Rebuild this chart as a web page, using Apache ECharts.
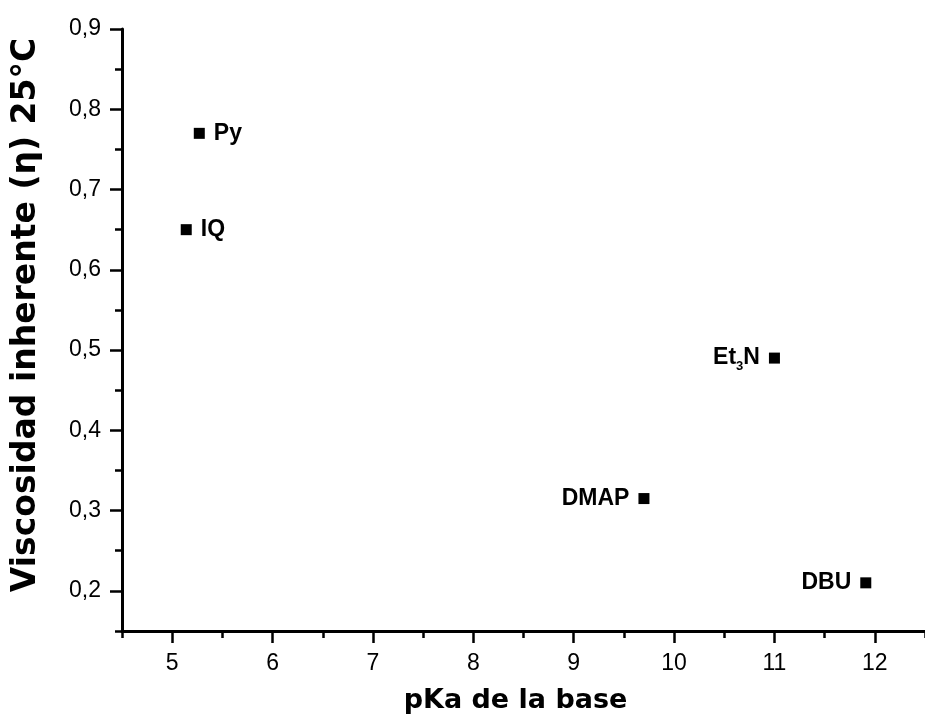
<!DOCTYPE html>
<html>
<head>
<meta charset="utf-8">
<script src="https://cdn.jsdelivr.net/npm/echarts@6/dist/echarts.min.js"></script>
<style>html,body{margin:0;padding:0;background:#fff}#c{width:925px;height:722px}</style>
</head>
<body>
<div id="c"></div>
<script>
// Data
const bases = ['Py', 'IQ', 'Et3N', 'DMAP', 'DBU'];
const pKa = [5.27, 5.14, 11.0, 9.70, 11.91];
const viscosity = [0.77, 0.65, 0.49, 0.315, 0.21];
const labelSide = ['right', 'right', 'left', 'left', 'left'];

// Axis ticks
const xMajorTicks = [5, 6, 7, 8, 9, 10, 11, 12];
const xMinorTicks = [4.5, 5.5, 6.5, 7.5, 8.5, 9.5, 10.5, 11.5, 12.5];
const yMajorTicks = [0.2, 0.3, 0.4, 0.5, 0.6, 0.7, 0.8, 0.9];
const yMinorTicks = [0.15, 0.25, 0.35, 0.45, 0.55, 0.65, 0.75, 0.85];

const xTitle = 'pKa de la base';
const yTitle = 'Viscosidad inherente (η) 25°C';

const FONT = '"Liberation Sans", Arial, sans-serif';
const TITLE_FONT = '"DejaVu Sans", "Liberation Sans", sans-serif';
const chart = echarts.init(document.getElementById('c'), null, {renderer: 'canvas'});

const tickLabelStyle = {color: '#000', fontFamily: FONT, fontSize: 23};

function labelText(name) {
  if (name === 'Et3N') return '{a|Et}{s|3}{a|N}';
  return '{a|' + name + '}';
}

const option = {
  backgroundColor: '#fff',
  animation: false,
  grid: {left: 122, top: 29, width: 809.6, height: 602},
  xAxis: [{
    type: 'value', min: 4.5, max: 12.5,
    splitLine: {show: false},
    axisLine: {show: true, onZero: false, lineStyle: {color: '#000', width: 3}},
    axisTick: {show: true, customValues: xMajorTicks, length: 12, lineStyle: {color: '#000', width: 2.5}},
    axisLabel: Object.assign({customValues: xMajorTicks, margin: 21, formatter: v => String(v)}, tickLabelStyle),
    name: xTitle, nameLocation: 'middle', nameGap: 56,
    nameTextStyle: {color: '#000', fontFamily: TITLE_FONT, fontWeight: 'bold', fontSize: 27, padding: [0, 16, 0, 0]}
  }, {
    type: 'value', min: 4.5, max: 12.5, position: 'bottom',
    splitLine: {show: false},
    axisLine: {show: false, onZero: false},
    axisTick: {show: true, customValues: xMinorTicks, length: 7, lineStyle: {color: '#000', width: 2.5}},
    axisLabel: {show: false}
  }],
  yAxis: [{
    type: 'value', min: 0.15, max: 0.9,
    splitLine: {show: false},
    axisLine: {show: true, onZero: false, lineStyle: {color: '#000', width: 3}},
    axisTick: {show: true, customValues: yMajorTicks, length: 12, lineStyle: {color: '#000', width: 2.5}},
    axisLabel: Object.assign({customValues: yMajorTicks, margin: 21, formatter: v => v.toFixed(1).replace('.', ',')}, tickLabelStyle),
    name: yTitle, nameLocation: 'middle', nameGap: 79, nameRotate: 90,
    nameTextStyle: {color: '#000', fontFamily: TITLE_FONT, fontWeight: 'bold', fontSize: 33, padding: [0, 0, 0, 30]}
  }, {
    type: 'value', min: 0.15, max: 0.9, position: 'left',
    splitLine: {show: false},
    axisLine: {show: false, onZero: false},
    axisTick: {show: true, customValues: yMinorTicks, length: 7, lineStyle: {color: '#000', width: 2.5}},
    axisLabel: {show: false}
  }],
  series: [{
    type: 'scatter',
    xAxisIndex: 0, yAxisIndex: 0,
    symbol: 'rect', symbolSize: 11,
    itemStyle: {color: '#000', opacity: 1},
    data: bases.map((b, i) => ({
      name: b,
      value: [pKa[i], viscosity[i]],
      label: {position: labelSide[i]}
    })),
    label: {
      show: true, distance: 9,
      formatter: p => labelText(p.name),
      rich: {
        a: {color: '#000', fontFamily: FONT, fontWeight: 'bold', fontSize: 23},
        s: {color: '#000', fontFamily: FONT, fontWeight: 'bold', fontSize: 13, padding: [16, 0, 0, 0]}
      }
    }
  }]
};
chart.setOption(option);
</script>
</body>
</html>
